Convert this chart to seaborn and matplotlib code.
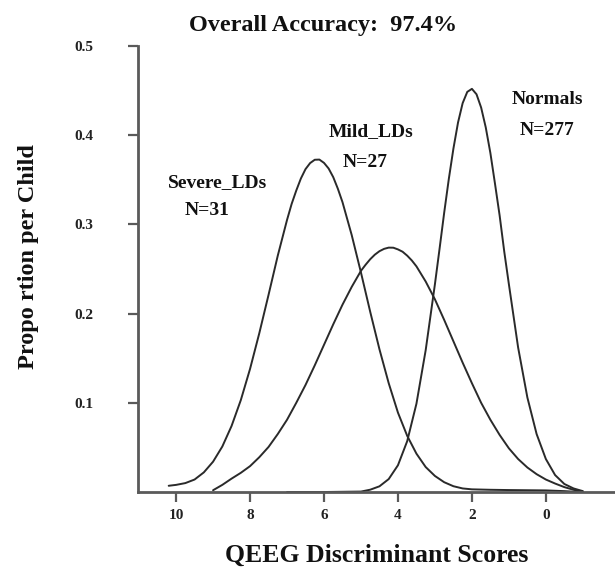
import matplotlib
matplotlib.use("Agg")
import matplotlib.pyplot as plt
import seaborn as sns
import pandas as pd

# ---- data ----
severe_x = [10.2, 10.0, 9.75, 9.5, 9.25, 9.0, 8.75, 8.5, 8.25, 8.0, 7.75, 7.5, 7.25, 7.0,
            6.875, 6.75, 6.625, 6.5, 6.375, 6.25, 6.125, 6.0, 5.875, 5.75, 5.625, 5.5,
            5.25, 5.0, 4.75, 4.5, 4.25, 4.0, 3.75, 3.5,
            3.25, 3.0, 2.75, 2.5, 2.25, 2.0, 1.5, 1.0, 0.5, 0.0, -0.5, -0.9]
severe_y = [0.007, 0.008, 0.010, 0.014, 0.022, 0.034, 0.051, 0.074, 0.103, 0.138, 0.178, 0.221,
            0.265, 0.305, 0.323, 0.338, 0.3515, 0.362, 0.3688, 0.3725, 0.3727, 0.369, 0.3627,
            0.353, 0.340, 0.325, 0.288, 0.246, 0.202, 0.160,
            0.122, 0.089, 0.063, 0.043, 0.028, 0.018, 0.011, 0.0065, 0.0040, 0.0030, 0.0025,
            0.0022, 0.0020, 0.0018, 0.0010, 0.0]

mild_x = [9.0, 8.75, 8.5, 8.25, 8.0, 7.75, 7.5, 7.25, 7.0, 6.75, 6.5, 6.25, 6.0, 5.75, 5.5,
          5.25, 5.0, 4.875, 4.75, 4.625, 4.5, 4.375, 4.25, 4.125, 4.0, 3.875, 3.75, 3.625,
          3.5, 3.25, 3.0, 2.75, 2.5, 2.25, 2.0, 1.75,
          1.5, 1.25, 1.0, 0.75, 0.5, 0.25, 0.0, -0.25, -0.5, -0.75, -1.0]
mild_y = [0.002, 0.008, 0.015, 0.0215, 0.029, 0.039, 0.0505, 0.065, 0.081, 0.100, 0.120, 0.142,
          0.165, 0.188, 0.210, 0.230, 0.248, 0.2548, 0.261, 0.2661, 0.270, 0.2726, 0.274,
          0.2739, 0.272, 0.2694, 0.265, 0.2596, 0.253, 0.236,
          0.216, 0.193, 0.169, 0.145, 0.122, 0.100, 0.081, 0.064, 0.049, 0.037, 0.0275, 0.020,
          0.014, 0.0095, 0.0055, 0.0025, 0.0005]

normal_x = [7.0, 6.0, 5.0, 4.75, 4.5, 4.25, 4.0, 3.75, 3.5, 3.25, 3.0, 2.875, 2.75, 2.625,
            2.5, 2.375, 2.25, 2.125, 2.0, 1.875, 1.75, 1.625, 1.5, 1.375, 1.25, 1.125,
            1.0, 0.75, 0.5, 0.25, 0.0, -0.25, -0.5, -0.75, -1.0]
normal_y = [0.0, 0.0, 0.0005, 0.0026, 0.0064, 0.0145, 0.030, 0.057, 0.099, 0.159, 0.233, 0.2726,
            0.313, 0.3508, 0.385, 0.4143, 0.436, 0.4486, 0.452, 0.4459, 0.431, 0.4087, 0.380,
            0.3455, 0.310, 0.2695, 0.233, 0.162, 0.106, 0.065, 0.037, 0.019,
            0.009, 0.004, 0.001]

group_names = ["Severe_LDs", "Mild_LDs", "Normals"]
group_counts = ["N=31", "N=27", "N=277"]
x_ticks = [10, 8, 6, 4, 2, 0]
y_ticks = [0.1, 0.2, 0.3, 0.4, 0.5]
title = "Overall Accuracy:  97.4%"
x_label = "QEEG Discriminant Scores"
y_label = "Propo rtion per Child"

# ---- style ----
sns.set_style("white")
plt.rcParams['font.family'] = ['Liberation Serif', 'DejaVu Serif']
plt.rcParams['font.weight'] = 'bold'

fig = plt.figure(figsize=(6.15, 5.69), dpi=100)
ax = fig.add_axes([0.2244, 0.1353, 0.7756, 0.7838])

line_color = "#2a2a2a"
for xs, ys in [(severe_x, severe_y), (mild_x, mild_y), (normal_x, normal_y)]:
    df = pd.DataFrame({"x": xs, "y": ys})
    sns.lineplot(data=df, x="x", y="y", ax=ax, color=line_color, linewidth=1.4,
                 sort=False, estimator=None)

ax.set_xlim(11.03, -1.87)
ax.set_ylim(0, 0.5)
ax.set_xticks(x_ticks)
ax.set_yticks(y_ticks)
ax.set_xticklabels([str(t) for t in x_ticks])
ax.set_yticklabels([f"{t:.1f}" for t in y_ticks])

for side in ["top", "right"]:
    ax.spines[side].set_visible(False)
for side in ["left", "bottom"]:
    ax.spines[side].set_color("#5a5a5a")
    ax.spines[side].set_linewidth(2.0)

ax.tick_params(axis="both", which="both", direction="out", length=7, width=1.6,
               color="#5a5a5a", labelsize=11, labelcolor="#222222")
ax.tick_params(axis="y", left=True, pad=25)
ax.tick_params(axis="x", bottom=True, pad=5)
for lbl in ax.get_xticklabels() + ax.get_yticklabels():
    lbl.set_fontweight("bold")

ax.set_xlabel(x_label, fontsize=18.5, fontweight="bold", color="#111111", va="center")
ax.set_ylabel(y_label, fontsize=17.5, fontweight="bold", color="#111111", va="center")
ax.xaxis.set_label_coords(0.501, -0.141)
ax.yaxis.set_label_coords(-0.2306, 0.527)

ax.text(0.388, 1.047, title, transform=ax.transAxes, ha="center", va="center",
        fontsize=17.5, fontweight="bold", color="#111111")

label_pos = [(8.89, 0.3475, 9.16, 0.316), (4.74, 0.4036, 4.89, 0.369), (-0.03, 0.44, -0.03, 0.405)]
for name, n, (x1, y1, x2, y2) in zip(group_names, group_counts, label_pos):
    ax.text(x1, y1, name, ha="center", va="center", fontsize=14, fontweight="bold", color="#111111")
    ax.text(x2, y2, n, ha="center", va="center", fontsize=14, fontweight="bold", color="#111111")

fig.savefig("out.png", dpi=100)
